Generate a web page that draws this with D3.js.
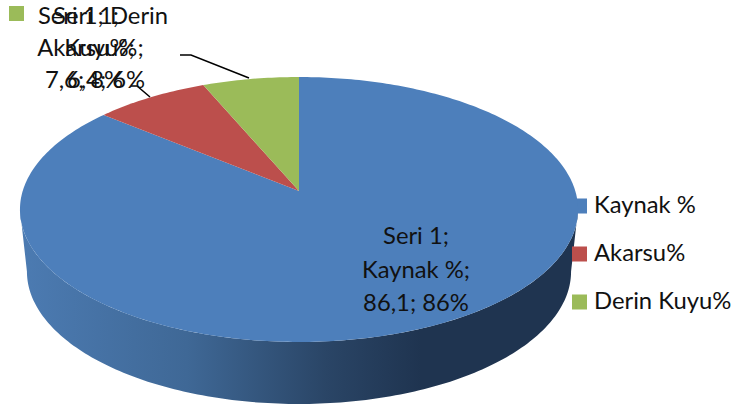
<!DOCTYPE html>
<html>
<head>
<meta charset="utf-8">
<script src="https://cdn.jsdelivr.net/npm/d3@7"></script>
<style>
    html, body { margin: 0; padding: 0; background: #fff; }
    svg { display: block; }
    text { font-family: Lato, "Open Sans", sans-serif; font-size: 23.8px; fill: #111; }
</style>
</head>
<body>
<svg id="chart" width="733" height="412"></svg>
<script>
// Chart data
const categories = ['Kaynak %', 'Akarsu%', 'Derin Kuyu%'];
const seriesValues = [86.1, 7.6, 6.4];
const valueLabels = ['86,1', '7,6', '6,4'];
const percentLabels = ['86%', '8%', '6%'];
const seriesName = 'Seri 1';
const colors = ['#4d7fbb', '#bc4f4c', '#9bbb59'];

const svg = d3.select('#chart');

// Tilted disc: circle projected with a slight perspective
const tilt = 0.1396;
const topPlane = { cx: 299, cy: 191, rx: 276.3, ry: 129.9 };
const bottomPlane = { cx: 299, cy: 253, rx: 269.4, ry: 129.9 };

function project(plane, angle) {
    const u = Math.sin(angle);
    const v = Math.cos(angle);
    const w = 1 + tilt * v;
    return [plane.cx + plane.rx * u / w, plane.cy - plane.ry * v / w];
}

function rim(plane, a0, a1) {
    const n = Math.max(2, Math.ceil(Math.abs(a1 - a0) * 60));
    return d3.range(n + 1).map(i => project(plane, a0 + (a1 - a0) * i / n));
}

const line = d3.line();
const pie = d3.pie().sort(null).startAngle(0).endAngle(2 * Math.PI);
const slices = pie(seriesValues);

// Side wall gradient
const grad = svg.append('defs').append('linearGradient')
    .attr('id', 'side')
    .attr('gradientUnits', 'userSpaceOnUse')
    .attr('x1', 20).attr('x2', 577).attr('y1', 0).attr('y2', 0);
[[0, '#4c7bb2'], [0.3, '#3f6896'], [0.55, '#2a4566'], [0.72, '#1f3450'], [1, '#1f3450']].forEach(s => {
    grad.append('stop').attr('offset', s[0]).attr('stop-color', s[1]);
});

// Visible front wall, between the two side extremes of the disc
const frontStart = Math.acos(-tilt);
const frontEnd = 2 * Math.PI - frontStart;
const wall = rim(topPlane, frontStart, frontEnd)
    .concat(rim(bottomPlane, frontEnd, frontStart));
svg.append('path')
    .attr('d', line(wall) + 'Z')
    .attr('fill', 'url(#side)');

// Legend keys sit under the disc
const legendX = 572;
const legendRows = [206, 254, 302];
categories.forEach((c, i) => {
    svg.append('rect')
        .attr('x', legendX)
        .attr('y', legendRows[i] - 7.5)
        .attr('width', 15)
        .attr('height', 15)
        .attr('fill', colors[i]);
    svg.append('text')
        .attr('x', 594)
        .attr('y', legendRows[i] + 7)
        .text(c);
});

// Top face slices
svg.selectAll('.slice')
    .data(slices)
    .enter()
    .append('path')
    .attr('class', 'slice')
    .attr('d', d => line([[topPlane.cx, topPlane.cy]].concat(rim(topPlane, d.startAngle, d.endAngle))) + 'Z')
    .attr('fill', (d, i) => colors[i]);

// Stray legend key in the top corner
svg.append('rect')
    .attr('x', 9).attr('y', 6)
    .attr('width', 15).attr('height', 15)
    .attr('fill', colors[2]);

// Leader lines
[
    [[131, 86], [137, 86], [150, 97]],
    [[180, 55], [191, 55], [249, 78]]
].forEach(pts => {
    svg.append('path')
        .attr('d', line(pts))
        .attr('fill', 'none')
        .attr('stroke', '#000')
        .attr('stroke-width', 1.5);
});

// Data labels (xs per line, the small labels are not quite centred)
function drawLabel(lines, xs, ys) {
    lines.forEach((t, i) => {
        svg.append('text')
            .attr('x', xs[i])
            .attr('y', ys[i])
            .attr('text-anchor', 'middle')
            .text(t);
    });
}

const valueText = i => `${valueLabels[i]}; ${percentLabels[i]}`;
drawLabel([`${seriesName};`, `${categories[0]};`, valueText(0)], [416, 416, 416], [244, 278, 311]);
drawLabel([`${seriesName};`, `${categories[1]};`, valueText(1)], [86, 86, 84], [24, 56, 88]);
drawLabel([`${seriesName}; Derin`, 'Kuyu%;', valueText(2)], [103, 104, 106], [24, 56, 88]);
</script>
</body>
</html>
